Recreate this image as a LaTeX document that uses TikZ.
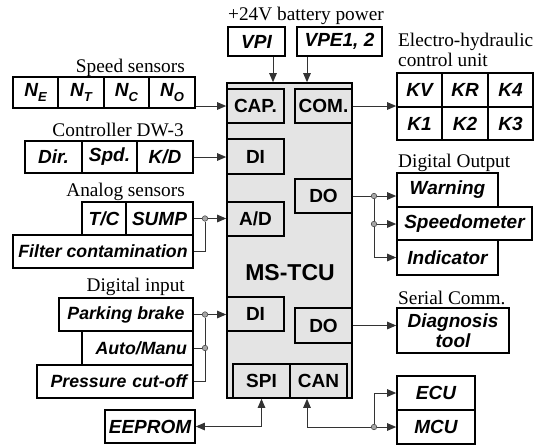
\documentclass[tikz,border=0pt]{standalone}
\usepackage{fontspec}
\setmainfont{Liberation Serif}
\setsansfont{Liberation Sans}
\usetikzlibrary{arrows.meta,calc}
\definecolor{tcugray}{RGB}{228,228,228}
\newcommand{\bfi}{\sffamily\bfseries\itshape\fontsize{19}{20}\selectfont}
\newcommand{\bfis}{\sffamily\bfseries\itshape\fontsize{17.7}{19}\selectfont}
\newcommand{\nsub}[1]{N\raisebox{-5pt}{\fontsize{13}{13}\selectfont #1}}
\newcommand{\cellbox}[7]{\node[#1, minimum width={(#4)-(#3)}, minimum height={(#6)-(#5)}] (#2) at ({((#3)+(#4))/2},{((#5)+(#6))/2}) {#7};}
\begin{document}
\begin{tikzpicture}[x=1pt,y=-1pt,
  cell/.style={draw, line width=1.6pt, inner sep=0pt, fill=white, font=\bfi, align=center},
  smallcell/.style={cell, font=\bfis},
  mainbox/.style={draw, line width=1.6pt, inner sep=0pt, fill=tcugray},
  mod/.style={draw, line width=1.6pt, inner sep=0pt, fill=tcugray, font=\sffamily\bfseries\fontsize{19}{20}\selectfont},
  lbl/.style={font=\fontsize{19.3}{20}\selectfont, inner sep=0pt},
  wire/.style={draw=black!80, line width=1pt},
  arr/.style={wire, -{Triangle[length=9pt,width=7.5pt]}},
  jdot/.style={circle, draw=black!70, fill=black!35, line width=0.6pt, inner sep=0pt, minimum size=5.5pt}]
\useasboundingbox (0,0) rectangle (546,445);

% main unit
\cellbox{mainbox}{tcu}{227}{352}{83}{398}{}
\node[font=\sffamily\bfseries\fontsize{23}{24}\selectfont, inner sep=0pt] (tcutext) at (290,273) {MS-TCU};
\cellbox{mod}{cap}{227}{284}{89}{123}{CAP.}
\cellbox{mod}{com}{295}{352}{89}{123}{COM.}
\cellbox{mod}{di}{227}{284}{139}{174}{DI}
\cellbox{mod}{doa}{295}{352}{179}{213}{DO}
\cellbox{mod}{ad}{227}{284}{202}{236}{A/D}
\cellbox{mod}{dib}{227}{284}{297}{331}{DI}
\cellbox{mod}{dob}{295}{352}{308}{343}{DO}
\cellbox{mod}{spi}{233}{290}{364}{398}{SPI}
\cellbox{mod}{can}{290}{347}{364}{398}{CAN}

% labels
\node[lbl, anchor=base] (l24) at (306,20) {+24V battery power};
\node[lbl, anchor=base east] (lspeed) at (185,72) {Speed sensors};
\node[lbl, anchor=base east] (lctrl) at (184,136) {Controller DW-3};
\node[lbl, anchor=base east] (lana) at (185,196) {Analog sensors};
\node[lbl, anchor=base east] (ldin) at (185,291) {Digital input};
\node[lbl, anchor=north west, align=left] (lehc) at (398,33) {Electro-hydraulic\\control unit};
\node[lbl, anchor=base west] (ldout) at (398,167) {Digital Output};
\node[lbl, anchor=base west] (lser) at (398,304) {Serial Comm.};

% top supplies
\cellbox{cell}{vpi}{228}{285}{27}{56}{VPI}
\cellbox{cell}{vpe}{297}{382}{27}{56}{VPE1, 2}

% left side
\cellbox{cell}{nE}{13}{58}{77}{108}{\nsub{E}}
\cellbox{cell}{nT}{58}{104}{77}{108}{\nsub{T}}
\cellbox{cell}{nC}{104}{149}{77}{108}{\nsub{C}}
\cellbox{cell}{nO}{149}{195}{77}{108}{\nsub{O}}
\cellbox{cell}{dir}{25}{82}{141}{173}{Dir.}
\cellbox{cell}{spd}{82}{137}{141}{173}{Spd.}
\cellbox{cell}{kd}{137}{193}{141}{173}{K/D}
\cellbox{cell}{tc}{82}{126}{202}{235}{T/C}
\cellbox{cell}{sump}{126}{193}{202}{235}{SUMP}
\cellbox{smallcell}{filter}{13}{193}{235}{268}{Filter contamination}
\cellbox{smallcell}{park}{59}{193}{298}{331}{Parking brake}
\cellbox{smallcell, align=right, text width=99pt}{auto}{82}{193}{331}{365}{Auto/Manu}
\cellbox{smallcell, align=right, text width=144pt}{press}{37}{193}{365}{398}{Pressure cut-off}
\cellbox{cell}{eeprom}{105}{195}{410}{443}{EEPROM}

% right side
\cellbox{cell}{kv}{397}{442}{73}{107}{KV}
\cellbox{cell}{kr}{442}{488}{73}{107}{KR}
\cellbox{cell}{kf}{488}{533}{73}{107}{K4}
\cellbox{cell}{ka}{397}{442}{107}{140}{K1}
\cellbox{cell}{kb}{442}{488}{107}{140}{K2}
\cellbox{cell}{kc}{488}{533}{107}{140}{K3}
\cellbox{cell}{warn}{397}{498}{173}{207}{Warning}
\cellbox{cell}{speedo}{397}{532}{207}{240}{Speedometer}
\cellbox{cell}{ind}{397}{498}{240}{275}{Indicator}
\cellbox{cell}{diag}{397}{509}{308}{353}{Diagnosis\\tool}
\cellbox{cell}{ecu}{397}{475}{376}{410}{ECU}
\cellbox{cell}{mcu}{397}{475}{410}{444}{MCU}

% junction dots
\node[jdot] (j1) at (205,218.5) {};
\node[jdot] (j2) at (205,314.5) {};
\node[jdot] (j3) at (205,348) {};
\node[jdot] (j4) at (374,427) {};
\node[jdot] (j5) at (374,196) {};
\node[jdot] (j6) at (374,224) {};

% connectors
\draw[arr] ([xshift=16.5pt]vpi.south) -- ([xshift=16.5pt]vpi.south |- tcu.north);
\draw[arr] ([xshift=-32.5pt]vpe.south) -- ([xshift=-32.5pt]vpe.south |- tcu.north);
\draw[arr] (nO.east |- cap.west) -- (cap.west);
\draw[arr] (kd.east) -- (kd.east -| di.west);
\draw[wire] (sump.east) -- (j1);
\draw[arr] (j1) -- (j1 -| ad.west);
\draw[wire] (filter.east) -| (j1);
\draw[wire] (park.east) -- (j2);
\draw[arr] (j2) -- (j2 -| dib.west);
\draw[wire] (auto.east) -- (j3);
\draw[wire] (j3) -- (j2);
\draw[wire] (press.east) -| (j3);
\draw[wire, {Triangle[length=9pt,width=7.5pt]}-{Triangle[length=9pt,width=7.5pt]}] (eeprom.east) -| (spi.south);
\draw[arr] (com.east) -- (com.east -| kv.west);
\draw[wire] (doa.east) -- (j5);
\draw[arr] (j5) -- (j5 -| warn.west);
\draw[wire] (j5) -- (j6);
\draw[arr] (j6) -- (j6 -| speedo.west);
\draw[arr] (j6) |- (ind.west);
\draw[arr] (dob.east) -- (dob.east -| diag.west);
\draw[arr] (j4) -| ([xshift=-11.5pt]can.south);
\draw[arr] (j4) -- (j4 -| mcu.west);
\draw[arr] (j4) |- (ecu.west);
\end{tikzpicture}
\end{document}
